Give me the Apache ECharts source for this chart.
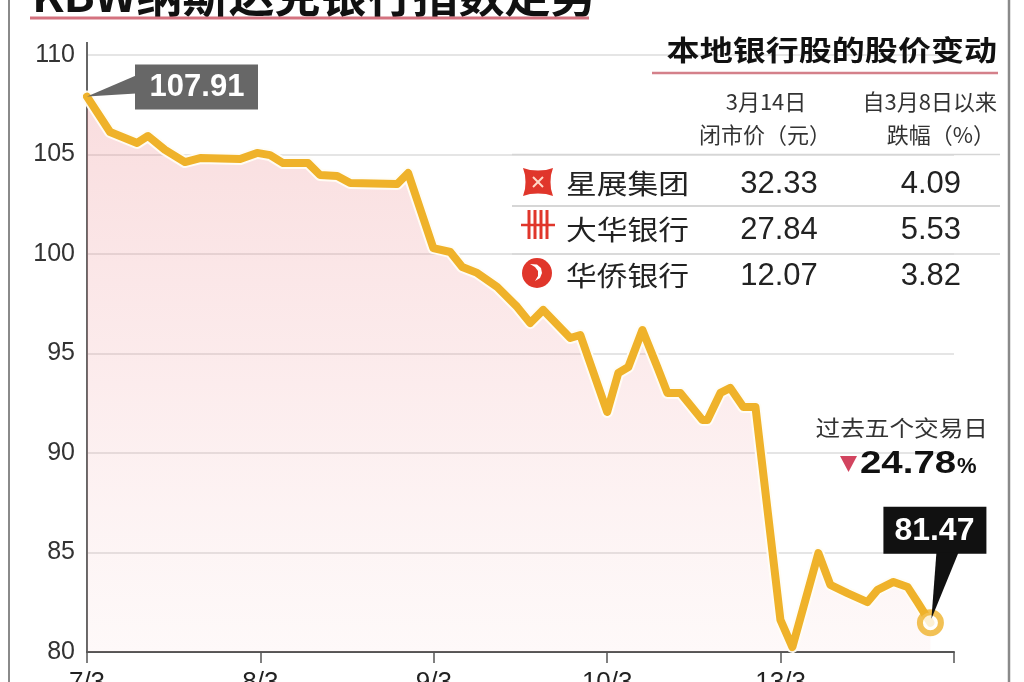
<!DOCTYPE html>
<html>
<head>
<meta charset="utf-8">
<script src="https://cdn.jsdelivr.net/npm/echarts@6/dist/echarts.min.js"></script>
<style>
html,body{margin:0;padding:0;background:#fff;}
#c{width:1024px;height:682px;}
</style>
</head>
<body>
<div id="c"></div>
<script>
// ---- data ----
const dayLabels = ['7/3', '8/3', '9/3', '10/3', '13/3'];
// position within the five trading days (0 = open of 7/3)
const timePos = [0, 0.133, 0.289, 0.352, 0.45, 0.565, 0.652, 0.883, 0.981, 1.056, 1.131, 1.275, 1.344, 1.443, 1.518, 1.789, 1.852,
  1.997, 2.095, 2.164, 2.25, 2.366, 2.481, 2.556, 2.631, 2.787, 2.845,
  3.0, 3.064, 3.122, 3.203, 3.289, 3.347, 3.422, 3.549, 3.578, 3.653, 3.71, 3.785, 3.855,
  3.999, 4.068, 4.218, 4.287, 4.385, 4.501, 4.559, 4.651, 4.732, 4.789, 4.864];
const indexValues = [107.91, 106.13, 105.58, 105.93, 105.23, 104.62, 104.82, 104.77, 105.08, 104.97, 104.57, 104.57, 103.97, 103.92, 103.57, 103.52, 104.07,
  100.30, 100.10, 99.35, 99.05, 98.34, 97.34, 96.53, 97.19, 95.78, 95.93,
  92.06, 94.02, 94.32, 96.18, 94.32, 93.02, 93.02, 91.66, 91.66, 93.02, 93.27, 92.31, 92.31,
  81.61, 80.25, 84.97, 83.37, 82.96, 82.51, 83.12, 83.52, 83.27, 82.51, 81.47];
const yMin = 80, yMax = 110, yStep = 5;

const title = 'KBW纳斯达克银行指数走势';
const tableTitle = '本地银行股的股价变动';
const colHeads = [['3月14日', '闭市价（元）'], ['自3月8日以来', '跌幅（%）']];
const banks = ['星展集团', '大华银行', '华侨银行'];
const closePrices = ['32.33', '27.84', '12.07'];
const declines = ['4.09', '5.53', '3.82'];
const weekNote = '过去五个交易日';
const weekChange = '24.78';

// ---- chart ----
const chart = echarts.init(document.getElementById('c'));
const seriesData = timePos.map((t, i) => [t, indexValues[i]]);
const lineColor = '#efb22a';
const numFont = '"Liberation Sans", Arial, sans-serif';
const cjk = '"Noto Sans CJK SC", sans-serif';

chart.setOption({
  animation: false,
  backgroundColor: '#fff',
  grid: { left: 87, top: 55, right: 70, bottom: 30, outerBoundsMode: 'none', containLabel: false },
  xAxis: {
    type: 'value', min: 0, max: dayLabels.length, interval: 1,
    axisLine: { show: true, lineStyle: { color: '#555', width: 2 } },
    axisTick: { show: true, length: 11, lineStyle: { color: '#555', width: 1.5 } },
    axisLabel: { formatter: v => dayLabels[v] || '', fontSize: 26, color: '#222', margin: 18, fontFamily: numFont },
    splitLine: { show: false }
  },
  yAxis: {
    type: 'value', min: yMin, max: yMax, interval: yStep,
    axisLine: { show: true, lineStyle: { color: '#666', width: 2 } },
    axisTick: { show: false },
    axisLabel: { fontSize: 25, color: '#333', margin: 12, fontFamily: numFont },
    splitLine: { lineStyle: { color: '#dcdcdc', width: 1.5 } }
  },
  series: [
    {
      type: 'line', data: seriesData, symbol: 'none', silent: true, z: 2,
      lineStyle: { color: 'rgba(255,253,245,0.95)', width: 12, join: 'round', cap: 'round' },
      areaStyle: {
        origin: 'start',
        color: { type: 'linear', x: 0, y: 0, x2: 0, y2: 1, colorStops: [
          { offset: 0, color: 'rgba(232,120,125,0.36)' },
          { offset: 0.5, color: 'rgba(236,135,140,0.23)' },
          { offset: 1, color: 'rgba(240,170,170,0.1)' }
        ] }
      }
    },
    {
      type: 'line', data: seriesData, symbol: 'none', silent: true, z: 3,
      lineStyle: { color: lineColor, width: 8, join: 'round', cap: 'round' }
    },
    {
      type: 'scatter', data: [seriesData[seriesData.length - 1]], symbol: 'circle', symbolSize: 21, silent: true, z: 4,
      itemStyle: { color: '#fff', borderColor: lineColor, borderWidth: 6 }
    }
  ]
});

const p0 = chart.convertToPixel({ gridIndex: 0 }, seriesData[0]);
const pL = chart.convertToPixel({ gridIndex: 0 }, seriesData[seriesData.length - 1]);
const pTop = chart.convertToPixel({ gridIndex: 0 }, [0, yMax]);
const y105 = chart.convertToPixel({ gridIndex: 0 }, [0, 105])[1];
const y100 = chart.convertToPixel({ gridIndex: 0 }, [0, 100])[1];

const g = [];
function txt(x, y, text, font, fill, align, extra) {
  g.push(Object.assign({ type: 'text', x: x, y: y, z: 100,
    style: { text: text, font: font, fill: fill, align: align || 'left', verticalAlign: 'middle' } }, extra || {}));
}
function line(x1, y1, x2, y2, color, w, z) {
  g.push({ type: 'line', z: z || 100, shape: { x1: x1, y1: y1, x2: x2, y2: y2 }, style: { stroke: color, lineWidth: w } });
}
function poly(points, fill, z) {
  g.push({ type: 'polygon', z: z || 100, shape: { points: points }, style: { fill: fill } });
}

// frame
line(9, 0, 9, 682, '#8a8a8a', 2);
line(1009, 0, 1009, 682, '#8a8a8a', 2.5);
// y axis extension above top
line(pTop[0], pTop[1] - 13, pTop[0], pTop[1], '#666', 2);

// main title (cut off at top)
g.push({ type: 'text', x: 32, y: 18, z: 100,
  style: { text: title, font: 'bold 46px ' + cjk, fill: '#111', align: 'left', verticalAlign: 'bottom' } });
line(30, 18, 589, 18, '#d4727f', 3);

// table
txt(997, 50, tableTitle, 'bold 28px ' + cjk, '#111', 'right', { scaleX: 1.18 });
line(652, 73, 998, 73, '#d4808a', 2.5);
txt(766, 102, colHeads[0][0], '22px ' + cjk, '#333', 'center');
txt(765, 135, colHeads[0][1], '22px ' + cjk, '#333', 'center');
txt(997, 102, colHeads[1][0], '22px ' + cjk, '#333', 'right');
txt(995, 135, colHeads[1][1], '22px ' + cjk, '#333', 'right');
line(512, y105, 1000, y105, '#d6d6d6', 1.5, 1);
line(512, 206, 1000, 206, '#c8c8c8', 1.5);
line(512, y100, 1000, y100, '#d6d6d6', 1.5, 1);

const rowY = [184, 230, 276];
banks.forEach((b, i) => {
  txt(566, rowY[i], b, '27px ' + cjk, '#222', 'left', { scaleX: 1.14 });
  txt(779, rowY[i], closePrices[i], '31px ' + numFont, '#222', 'center');
  txt(961, rowY[i], declines[i], '31px ' + numFont, '#222', 'right');
});

// icons
const red = '#e0362b';
poly([[523, 168], [530, 170], [538, 170.5], [546, 170], [553, 168], [551, 175], [550.5, 182], [551, 189], [553, 196],
      [546, 194], [538, 193.5], [530, 194], [523, 196], [525, 189], [525.5, 182], [525, 175]], red);
line(533, 177, 543, 187, '#ffd9c8', 2);
line(543, 177, 533, 187, '#ffd9c8', 2);
[529, 535, 541, 547].forEach(x => line(x, 210, x, 239, red, 3));
line(521, 225, 555, 225, red, 2.5);
g.push({ type: 'circle', z: 100, shape: { cx: 537, cy: 273, r: 15 }, style: { fill: red } });
poly([[530, 264], [537, 264.5], [541, 268], [542, 273], [540, 278], [535, 281], [538, 276], [538, 271], [535, 267]], '#fff', 101);

// five-day change note
txt(988, 428, weekNote, '22px ' + cjk, '#333', 'right', { scaleX: 1.12 });
poly([[840, 456], [857, 456], [848.5, 472]], '#d2445f');
txt(860, 464, weekChange, 'bold 32px ' + numFont, '#111', 'left', { scaleX: 1.2 });
txt(957, 467, '%', 'bold 22px ' + numFont, '#111', 'left');

// start annotation
poly([[p0[0], p0[1]], [p0[0] + 49, p0[1] - 21], [p0[0] + 49, p0[1] - 3]], '#676767');
g.push({ type: 'rect', z: 100, shape: { x: p0[0] + 48, y: p0[1] - 32, width: 123, height: 45 }, style: { fill: '#676767' } });
txt(p0[0] + 110, p0[1] - 9, indexValues[0].toFixed(2), 'bold 31px ' + numFont, '#fff', 'center');

// end annotation
g.push({ type: 'rect', z: 100, shape: { x: pL[0] - 47, y: pL[1] - 116, width: 103, height: 47 }, style: { fill: '#111' } });
poly([[pL[0] + 6, pL[1] - 70], [pL[0] + 28, pL[1] - 70], [pL[0] + 1, pL[1] - 4]], '#111');
txt(pL[0] + 4, pL[1] - 92, indexValues[indexValues.length - 1].toFixed(2), 'bold 32px ' + numFont, '#fff', 'center');

chart.setOption({ graphic: g });
</script>
</body>
</html>
